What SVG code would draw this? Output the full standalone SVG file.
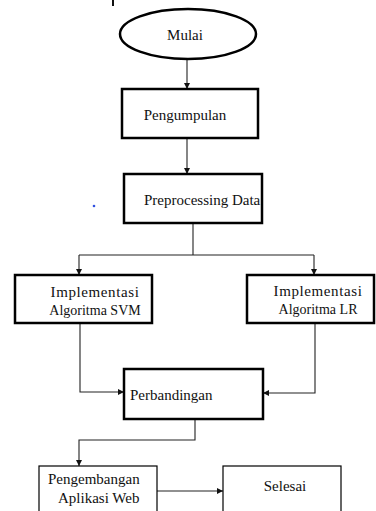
<svg xmlns="http://www.w3.org/2000/svg" width="376" height="511" viewBox="0 0 376 511">
<style>
.box{fill:#fff;stroke:#000;stroke-width:2.5}
.thin{fill:#fff;stroke:#000;stroke-width:1.2}
.t{font-family:'Liberation Serif','Times New Roman','DejaVu Serif',serif;font-size:15px;fill:#111}
.s14{font-size:14px}
.ls{letter-spacing:0.6px}
.c{fill:none;stroke:#222;stroke-width:1.1}
</style>
<defs>
<marker id="ah" viewBox="0 0 10 10" refX="10" refY="5" markerWidth="6" markerHeight="6" markerUnits="userSpaceOnUse" orient="auto">
<path d="M0,0 L10,5 L0,10 z" fill="#111"/>
</marker>
</defs>
<rect width="376" height="511" fill="#fff"/>
<line x1="113" y1="0" x2="113" y2="6" stroke="#111" stroke-width="2"/>
<circle cx="94" cy="206" r="1.3" fill="#3050e0"/>
<g id="connectors">
<path class="c" d="M187,59 V89" marker-end="url(#ah)"/>
<path class="c" d="M187,138 V174" marker-end="url(#ah)"/>
<path class="c" d="M193,223 V255"/>
<path class="c" d="M79,255 H314"/>
<path class="c" d="M79,255 V275" marker-end="url(#ah)"/>
<path class="c" d="M314,255 V275" marker-end="url(#ah)"/>
<path class="c" d="M80,323 V392 H124" marker-end="url(#ah)"/>
<path class="c" d="M315,323 V393 H263" marker-end="url(#ah)"/>
<path class="c" d="M195,419 V440 H79 V466" marker-end="url(#ah)"/>
<path class="c" d="M157,491 H223" marker-end="url(#ah)"/>
</g>
<g id="mulai">
<ellipse cx="188" cy="34" rx="68" ry="25" class="box"/>
<text x="185" y="40" class="t" text-anchor="middle" font-family="Liberation Serif, serif">Mulai</text>
</g>
<g id="pengumpulan">
<rect x="122" y="89" width="136" height="49" class="box"/>
<text x="185" y="120" class="t" text-anchor="middle">Pengumpulan</text>
</g>
<g id="preprocessing">
<rect x="124" y="174" width="138" height="49" class="box"/>
<text x="144" y="205" class="t">Preprocessing Data</text>
</g>
<g id="svm">
<rect x="15" y="275" width="137" height="48" class="box"/>
<text x="95" y="297" class="t ls" text-anchor="middle">Implementasi</text>
<text x="95" y="315" class="t s14" text-anchor="middle">Algoritma SVM</text>
</g>
<g id="lr">
<rect x="247" y="275" width="127" height="48" class="box"/>
<text x="318" y="296" class="t ls" text-anchor="middle">Implementasi</text>
<text x="318" y="314" class="t s14" text-anchor="middle">Algoritma LR</text>
</g>
<g id="perbandingan">
<rect x="124" y="369" width="139" height="50" class="box"/>
<text x="130" y="400" class="t">Perbandingan</text>
</g>
<g id="pengembangan">
<rect x="39" y="466" width="118" height="60" class="thin"/>
<text x="48" y="484" class="t">Pengembangan</text>
<text x="58" y="503" class="t">Aplikasi Web</text>
</g>
<g id="selesai">
<rect x="223" y="466" width="118" height="60" class="thin"/>
<text x="285" y="491" class="t" text-anchor="middle">Selesai</text>
</g>
</svg>
